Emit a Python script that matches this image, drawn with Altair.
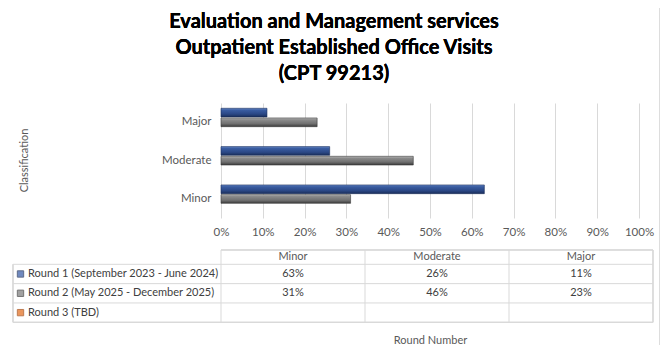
import altair as alt
import pandas as pd

# ---------------- data ----------------
categories = ["Minor", "Moderate", "Major"]
series = [
    "Round 1 (September 2023 - June 2024)",
    "Round 2 (May 2025 - December 2025)",
    "Round 3 (TBD)",
]
round1 = [63, 26, 11]
round2 = [31, 46, 23]
x_ticks = [0, 10, 20, 30, 40, 50, 60, 70, 80, 90, 100]
title_lines = [
    "Evaluation and Management services",
    "Outpatient Established Office Visits",
    "(CPT 99213)",
]
y_title = "Classification"
x_title = "Round Number"

rows = []
for c, v in zip(categories, round1):
    rows.append({"category": c, "series": series[0], "value": v})
for c, v in zip(categories, round2):
    rows.append({"category": c, "series": series[1], "value": v})
bars_df = pd.DataFrame(rows)
legend_df = pd.DataFrame({"series": series})
header_df = pd.DataFrame({"category": categories})

# ---------------- layout / style ----------------
W, H = 418, 115
FONT = "Lato"
AX_COL = "#595959"
TXT_COL = "#404040"
GRID = "#D9D9D9"

blue_grad = alt.Gradient(
    gradient="linear", x1=0, x2=0, y1=0, y2=1,
    stops=[
        alt.GradientStop(offset=0, color="#6A8CCB"),
        alt.GradientStop(offset=0.2, color="#3A5DA2"),
        alt.GradientStop(offset=0.65, color="#2B4886"),
        alt.GradientStop(offset=1, color="#1A2E5A"),
    ],
)
gray_grad = alt.Gradient(
    gradient="linear", x1=0, x2=0, y1=0, y2=1,
    stops=[
        alt.GradientStop(offset=0, color="#BDBDBD"),
        alt.GradientStop(offset=0.2, color="#8C8C8C"),
        alt.GradientStop(offset=0.65, color="#707070"),
        alt.GradientStop(offset=1, color="#3A3A3A"),
    ],
)

x_scale = alt.Scale(domain=[0, 100], nice=False)
y_scale = alt.Scale(domain=categories[::-1], paddingInner=0.5, paddingOuter=0.25)
yoff_scale = alt.Scale(domain=series[:2], range=[-4.3, 14.1], paddingInner=0.1)

x_axis = alt.Axis(
    values=x_ticks, labelExpr="datum.value + '%'", grid=True, gridColor=GRID,
    domain=False, ticks=False, tickSize=0, labelPadding=8, labelFlush=False,
    labelFont=FONT, labelFontSize=11.5, labelColor=AX_COL,
    title=x_title, titleFont=FONT, titleFontSize=11, titleFontWeight="normal",
    titleColor=AX_COL, titleX=209, titleY=122, titleBaseline="middle",
)
y_axis = alt.Axis(
    domain=False, ticks=False, tickSize=0, labelPadding=10, grid=False,
    labelFont=FONT, labelFontSize=11.5, labelColor=AX_COL,
    title=y_title, titleFont=FONT, titleFontSize=11, titleFontWeight="normal",
    titleColor=AX_COL, titleX=-197, titleY=57, titleAngle=270,
    titleBaseline="middle", titleAlign="center",
)


def bar_layer(s, grad, stroke, with_axis):
    return (
        alt.Chart(bars_df)
        .transform_filter(alt.datum.series == s)
        .mark_bar(color=grad, stroke=stroke, strokeWidth=0.6)
        .encode(
            x=alt.X("value:Q", scale=x_scale, axis=x_axis if with_axis else None),
            y=alt.Y("category:N", scale=y_scale, axis=y_axis if with_axis else None),
            yOffset=alt.YOffset("series:N", scale=yoff_scale),
        )
    )


bar1 = bar_layer(series[0], blue_grad, "#1A2E5A", True)
bar2 = bar_layer(series[1], gray_grad, "#3A3A3A", False)

# ---------------- table ----------------
col_scale = alt.Scale(type="band", domain=categories, range=[0, 432],
                      paddingInner=0, paddingOuter=0)
row_scale = alt.Scale(type="band", domain=series, range=[161.3, 219.3],
                      paddingInner=0, paddingOuter=0)

header = alt.Chart(header_df).mark_text(
    font=FONT, fontSize=11, color=AX_COL, baseline="middle"
).encode(
    x=alt.X("category:N", scale=col_scale, axis=None, bandPosition=0.5),
    y=alt.value(154),
    text="category:N",
)

cells = alt.Chart(bars_df).transform_calculate(
    label="datum.value + '%'"
).mark_text(font=FONT, fontSize=11, color=TXT_COL, baseline="middle").encode(
    x=alt.X("category:N", scale=col_scale, axis=None, bandPosition=0.5),
    y=alt.Y("series:N", scale=row_scale, axis=None, bandPosition=0.5),
    text="label:N",
)

leg_text = alt.Chart(legend_df).mark_text(
    font=FONT, fontSize=11, color=TXT_COL, align="left", baseline="middle"
).encode(
    x=alt.value(-193),
    y=alt.Y("series:N", scale=row_scale, axis=None, bandPosition=0.5),
    text="series:N",
)

leg_keys = alt.Chart(legend_df).mark_square(size=40, filled=True, strokeWidth=1).encode(
    x=alt.value(-200.5),
    y=alt.Y("series:N", scale=row_scale, axis=None, bandPosition=0.5),
    color=alt.Color("series:N", scale=alt.Scale(domain=series, range=["#3358A4", "#7A7A7A", "#E26B1A"]), legend=None),
    stroke=alt.Stroke("series:N", scale=alt.Scale(domain=series, range=["#1A2E5A", "#3A3A3A", "#A34408"]), legend=None),
)

row_lines = alt.Chart(legend_df).mark_rule(color=GRID, strokeWidth=1).encode(
    y=alt.Y("series:N", scale=row_scale, axis=None, bandPosition=0),
    x=alt.value(-208), x2=alt.value(432),
)
bottom_line = alt.Chart(legend_df).mark_rule(color=GRID, strokeWidth=1).encode(
    y=alt.value(219.3), x=alt.value(-208), x2=alt.value(432),
)
header_line = alt.Chart(legend_df).mark_rule(color=GRID, strokeWidth=1).encode(
    y=alt.value(147), x=alt.value(0), x2=alt.value(432),
)
col_lines = alt.Chart(header_df).mark_rule(color=GRID, strokeWidth=1).encode(
    x=alt.X("category:N", scale=col_scale, axis=None, bandPosition=0),
    y=alt.value(147), y2=alt.value(219.3),
)
right_line = alt.Chart(legend_df).mark_rule(color=GRID, strokeWidth=1).encode(
    x=alt.value(432), y=alt.value(147), y2=alt.value(219.3),
)
left_line = alt.Chart(legend_df).mark_rule(color=GRID, strokeWidth=1).encode(
    x=alt.value(-208), y=alt.value(161.3), y2=alt.value(219.3),
)
border_line = alt.Chart(legend_df).mark_rule(color=GRID, strokeWidth=1).encode(
    x=alt.value(439), y=alt.value(-95), y2=alt.value(242),
)

title = alt.Chart(legend_df).mark_text(
    text=title_lines, font=FONT, fontSize=20, fontWeight="bold", color="#000000",
    align="center", baseline="alphabetic", lineHeight=26,
).encode(x=alt.value(113), y=alt.value(-75))

chart = (
    alt.layer(
        row_lines, bottom_line, header_line, col_lines, right_line, left_line,
        border_line, bar1, bar2, header, cells, leg_text, leg_keys, title,
    )
    .resolve_scale(x="independent", y="independent")
    .properties(
        width=W, height=H,
        autosize=alt.AutoSizeParams(type="none"),
        padding={"left": 213, "top": 95, "right": 21, "bottom": 128},
        background="white",
    )
    .configure_view(stroke="transparent")
)

chart.save("out.html", embed_options={"renderer": "svg", "actions": False})
